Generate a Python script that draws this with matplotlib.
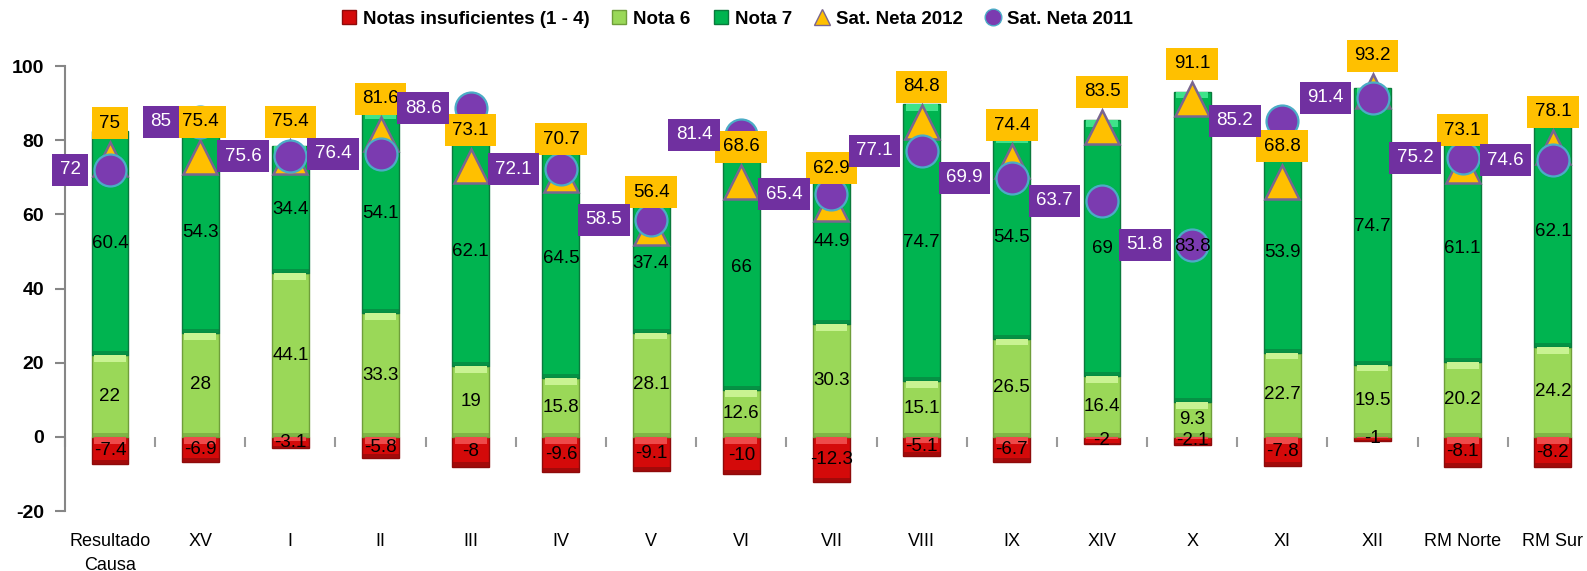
import numpy as np
import matplotlib
matplotlib.use("Agg")
import matplotlib.pyplot as plt
from matplotlib.lines import Line2D

plt.rcParams['font.family'] = ['Liberation Sans', 'DejaVu Sans']

# Datos
categorias = ['Resultado\nCausa', 'XV', 'I', 'II', 'III', 'IV', 'V', 'VI', 'VII',
              'VIII', 'IX', 'XIV', 'X', 'XI', 'XII', 'RM Norte', 'RM Sur']
insuficientes = [-7.4, -6.9, -3.1, -5.8, -8, -9.6, -9.1, -10, -12.3,
                 -5.1, -6.7, -2, -2.1, -7.8, -1, -8.1, -8.2]
nota6 = [22, 28, 44.1, 33.3, 19, 15.8, 28.1, 12.6, 30.3,
         15.1, 26.5, 16.4, 9.3, 22.7, 19.5, 20.2, 24.2]
nota7 = [60.4, 54.3, 34.4, 54.1, 62.1, 64.5, 37.4, 66, 44.9,
         74.7, 54.5, 69, 83.8, 53.9, 74.7, 61.1, 62.1]
sat2012 = [75, 75.4, 75.4, 81.6, 73.1, 70.7, 56.4, 68.6, 62.9,
           84.8, 74.4, 83.5, 91.1, 68.8, 93.2, 73.1, 78.1]
sat2011 = [72, 85, 75.6, 76.4, 88.6, 72.1, 58.5, 81.4, 65.4,
           77.1, 69.9, 63.7, 51.8, 85.2, 91.4, 75.2, 74.6]

x = np.arange(len(categorias))
ins = np.array(insuficientes, dtype=float)
n6 = np.array(nota6, dtype=float)
n7 = np.array(nota7, dtype=float)

# colores
ROJO, ROJO_L, ROJO_D = '#d40a0a', '#ee4a4a', '#8e0a0a'
V6, V6_L, V6_D = '#9ad858', '#c9f392', '#6f9e3a'
V7, V7_L, V7_D = '#00b450', '#3fe38a', '#0a7a3c'
NARANJA = '#ffc000'
MORADO = '#7030a0'

W = 0.41
BAND = 1.8

fig = plt.figure(figsize=(15.87, 5.71), dpi=100)
ax = fig.add_axes([64.9 / 1587, 1 - 511 / 571, (1598 - 64.9) / 1587, (511 - 66) / 571])


def segmento(bottom, height, col, light, dark):
    # barra con un pequeno bisel arriba y abajo
    ax.bar(x, height, W, bottom=bottom, color=col, edgecolor=dark, linewidth=1.0, zorder=2)
    band = np.minimum(np.abs(height) / 3, BAND) * np.sign(height)
    top = bottom + height
    ax.bar(x, -band, W * 0.86, bottom=top, color=light, linewidth=0, zorder=2.1)
    ax.bar(x, band * 0.6, W, bottom=bottom, color=dark, linewidth=0, zorder=2.1, alpha=0.6)


# rojo: de 0 hacia abajo (el "techo" es el 0)
ax.bar(x, ins, W, color=ROJO, edgecolor=ROJO_D, linewidth=1.0, zorder=2)
bi = np.minimum(np.abs(ins) / 3, BAND)
ax.bar(x, -bi, W * 0.86, bottom=0, color=ROJO_L, linewidth=0, zorder=2.1)
ax.bar(x, bi * 0.6, W, bottom=ins, color=ROJO_D, linewidth=0, zorder=2.1, alpha=0.7)

segmento(np.zeros_like(n6), n6, V6, V6_L, V6_D)
segmento(n6, n7, V7, V7_L, V7_D)

# etiquetas de segmentos
FS = 13.5
for i in x:
    ax.text(i, ins[i] / 2, f"{ins[i]:g}", ha='center', va='center', fontsize=FS, zorder=4.5)
    ax.text(i, n6[i] / 2, f"{n6[i]:g}", ha='center', va='center', fontsize=FS, zorder=4.5)
    ax.text(i, n6[i] + n7[i] / 2, f"{n7[i]:g}", ha='center', va='center', fontsize=FS, zorder=4.5)

# series de satisfaccion neta
ax.plot(x, sat2012, ls='none', marker='^', ms=24, mfc=NARANJA, mec='#7a6690', mew=1.8, zorder=3)
ax.plot(x, sat2011, ls='none', marker='o', ms=23, mfc='#7b3bb0', mec='#4bacc6', mew=1.6, zorder=4)

for i in x:
    ax.annotate(f"{sat2012[i]:g}", (i, sat2012[i]), xytext=(0, 27), textcoords='offset pixels',
                ha='center', va='bottom', fontsize=FS, color='black', zorder=5,
                bbox=dict(boxstyle='square,pad=0.4', fc=NARANJA, ec='none'))
    ax.annotate(f"{sat2011[i]:g}", (i, sat2011[i]), xytext=(-29, 0), textcoords='offset pixels',
                ha='right', va='center', fontsize=FS, color='white', zorder=6,
                bbox=dict(boxstyle='square,pad=0.4', fc=MORADO, ec='none'))

# ejes
ax.set_xlim(-0.5, len(categorias) - 0.5)
ax.set_ylim(-20, 100)
ax.set_yticks(np.arange(-20, 101, 20))
ax.set_yticklabels([f"{v:d}" for v in np.arange(-20, 101, 20)])
ax.set_xticks(x)
ax.set_xticklabels(categorias, fontsize=13, linespacing=1.5)
ax.tick_params(axis='x', length=0, pad=16)
ax.tick_params(axis='y', length=7, width=1.5, color='#868686', labelsize=14, pad=8)
for lab in ax.get_yticklabels():
    lab.set_fontweight('bold')
for s in ['top', 'right', 'bottom']:
    ax.spines[s].set_visible(False)
ax.spines['left'].set_color('#868686')
ax.spines['left'].set_linewidth(1.5)

# marcas entre categorias sobre el cero
sec = ax.secondary_xaxis(20 / 120)
sec.set_xticks(np.arange(len(categorias) + 1) - 0.5)
sec.set_xticklabels([])
sec.tick_params(length=7, width=1.5, color='#9a9a9a', direction='out')
sec.spines['bottom'].set_visible(False)
sec.set_zorder(0)

# leyenda
handles = [
    Line2D([], [], ls='none', marker='s', ms=10, mfc=ROJO, mec=ROJO_D),
    Line2D([], [], ls='none', marker='s', ms=10, mfc=V6, mec=V6_D),
    Line2D([], [], ls='none', marker='s', ms=10, mfc=V7, mec=V7_D),
    Line2D([], [], ls='none', marker='^', ms=12, mfc=NARANJA, mec='#7a6690'),
    Line2D([], [], ls='none', marker='o', ms=12, mfc='#7b3bb0', mec='#4bacc6'),
]
labels = ['Notas insuficientes (1 - 4)', 'Nota 6', 'Nota 7', 'Sat. Neta 2012', 'Sat. Neta 2011']
fig.legend(handles, labels, loc='center', bbox_to_anchor=(737 / 1587, 1 - 19 / 571), ncol=5,
           frameon=False, prop={'weight': 'bold', 'size': 13.5}, handlelength=0.8,
           handletextpad=0.35, columnspacing=1.2)

fig.savefig('out.png', dpi=100)
plt.close(fig)
